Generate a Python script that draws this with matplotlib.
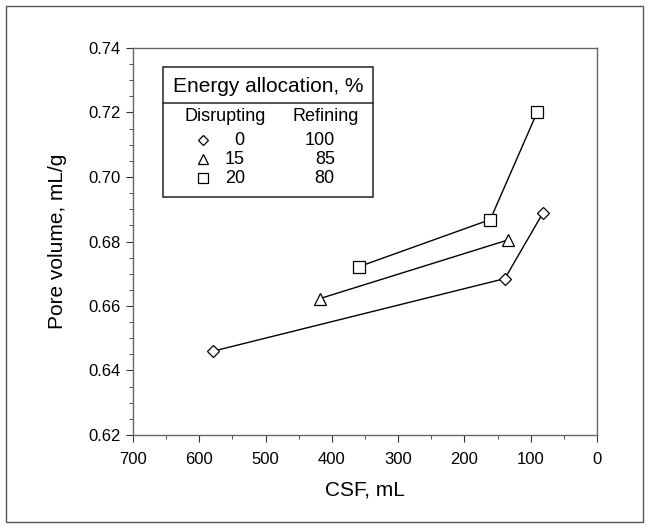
import matplotlib.pyplot as plt
from matplotlib.patches import Rectangle
from matplotlib.ticker import MultipleLocator

plt.rcParams['font.family'] = ['Liberation Sans', 'DejaVu Sans']

# CSF (mL) and pore volume (mL/g) for each energy allocation
csf_0 = [579, 139, 82]
pv_0 = [0.6460, 0.6685, 0.6887]
csf_15 = [418, 134]
pv_15 = [0.6623, 0.6805]
csf_20 = [359, 161, 90]
pv_20 = [0.6722, 0.6868, 0.7202]

disrupting = ['0', '15', '20']
refining = ['100', '85', '80']
markers = ['D', '^', 's']

fig = plt.figure(figsize=(6.49, 5.28), dpi=100)
ax = fig.add_axes([133 / 649, 93 / 528, 464 / 649, 387 / 528])

# outer frame around the whole figure
fig.patches.append(Rectangle((6 / 649, 6 / 528), 637 / 649, 516 / 528,
                             transform=fig.transFigure, fill=False,
                             edgecolor='#555555', lw=1))

msize = {'D': 6.5, '^': 8, 's': 8}
style = dict(color='black', lw=1, mfc='white', mec='black', mew=0.9)
ax.plot(csf_0, pv_0, marker='D', ms=msize['D'], **style)
ax.plot(csf_15, pv_15, marker='^', ms=msize['^'], **style)
ax.plot(csf_20, pv_20, marker='s', ms=msize['s'], **style)

ax.set_xlim(700, 0)
ax.set_ylim(0.62, 0.74)
ax.xaxis.set_major_locator(MultipleLocator(100))
ax.xaxis.set_minor_locator(MultipleLocator(50))
ax.yaxis.set_major_locator(MultipleLocator(0.02))
ax.yaxis.set_minor_locator(MultipleLocator(0.005))
ax.yaxis.set_major_formatter(plt.FormatStrFormatter('%.2f'))
ax.tick_params(which='both', direction='out', top=False, right=False,
               labelsize=12, color='#333333')
ax.tick_params(which='major', length=5)
ax.tick_params(which='minor', length=3)
ax.tick_params(axis='x', which='major', pad=7)
ax.tick_params(axis='y', which='major', pad=4)
for s in ax.spines.values():
    s.set_color('#666666')
    s.set_linewidth(1)

ax.set_xlabel('CSF, mL', fontsize=15, labelpad=10)
ax.set_ylabel('Pore volume, mL/g', fontsize=15, labelpad=15)

# table-style legend
lx0, lx1, ly0, ly1, ldiv = 0.065, 0.517, 0.615, 0.951, 0.858
ax.add_patch(Rectangle((lx0, ly0), lx1 - lx0, ly1 - ly0, transform=ax.transAxes,
                       fill=False, edgecolor='#333333', lw=1.2, zorder=5))
ax.plot([lx0, lx1], [ldiv, ldiv], transform=ax.transAxes, color='#333333',
        lw=1.2, zorder=5)
ax.text((lx0 + lx1) / 2, 0.900, 'Energy allocation, %',
        transform=ax.transAxes, ha='center', va='center', fontsize=15)
ax.text(0.198, 0.822, 'Disrupting', transform=ax.transAxes,
        ha='center', va='center', fontsize=13)
ax.text(0.416, 0.822, 'Refining', transform=ax.transAxes,
        ha='center', va='center', fontsize=13)
row_y = [0.762, 0.713, 0.664]
for m, d, r, y in zip(markers, disrupting, refining, row_y):
    ax.plot([0.151], [y], transform=ax.transAxes, marker=m,
            ms=msize[m] - 1, mfc='white', mec='black', mew=0.9, clip_on=False)
    ax.text(0.241, y, d, transform=ax.transAxes, ha='right', va='center',
            fontsize=13)
    ax.text(0.435, y, r, transform=ax.transAxes, ha='right', va='center',
            fontsize=13)

fig.savefig('out.png', dpi=100)
